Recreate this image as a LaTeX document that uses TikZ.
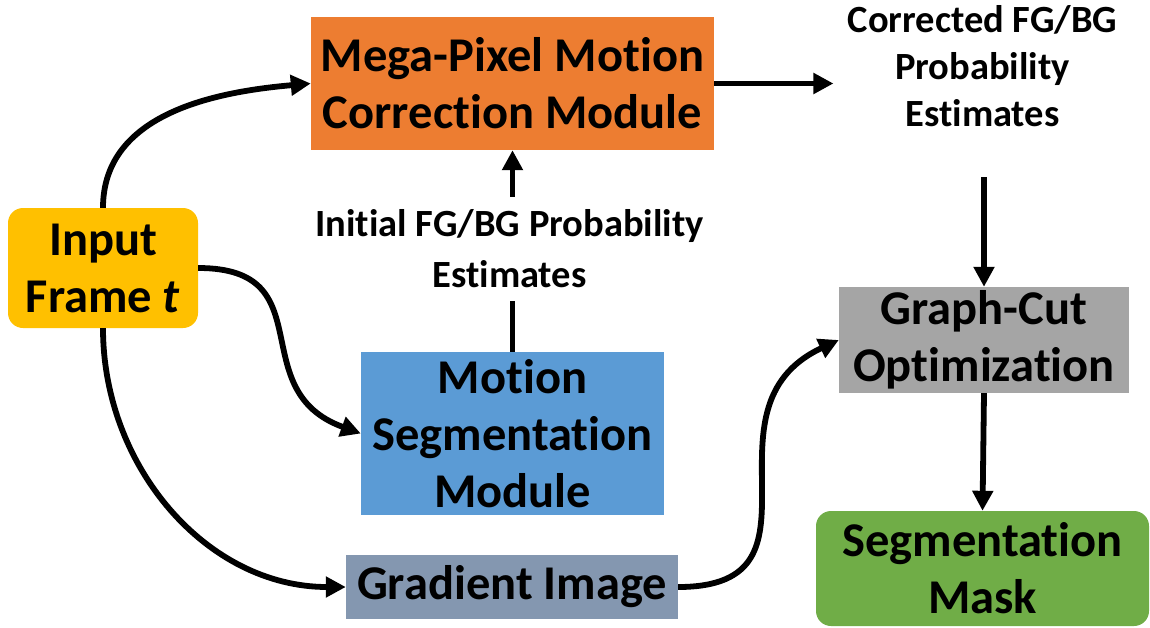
\documentclass[tikz,border=0pt]{standalone}
\usepackage{fontspec}
\setmainfont{Carlito}[Ligatures={NoCommon}]
\usetikzlibrary{arrows.meta}

\definecolor{corrorange}{HTML}{ED7D31}
\definecolor{inputyellow}{HTML}{FFC000}
\definecolor{segblue}{HTML}{5B9BD5}
\definecolor{gradslate}{HTML}{8497B0}
\definecolor{cutgray}{HTML}{A5A5A5}
\definecolor{maskgreen}{HTML}{70AD47}

\tikzset{
  block/.style={rectangle, inner sep=0pt, align=center, text=black,
    font=\bfseries\fontsize{48.5}{57}\selectfont},
  roundblock/.style={block, rounded corners=15pt},
  note/.style={inner xsep=0pt, align=center, text=black,
    font=\bfseries\fontsize{38.5}{47}\selectfont},
  conn/.style={line width=5.8pt, black},
  arrow/.style={conn, -{Triangle[length=20pt,width=20pt]}},
}

\begin{document}
\begin{tikzpicture}[x=1pt,y=1pt]
  \useasboundingbox (0,0) rectangle (1150,-627);

  % processing blocks
  \node[roundblock, fill=inputyellow, minimum width=190pt, minimum height=120pt]
    (input) at (103,-268) {Input\\Frame \textit{t}};
  \node[block, fill=corrorange, minimum width=403pt, minimum height=133pt]
    (mpmc) at (512.5,-83.5) {Mega-Pixel Motion\\Correction Module};
  \node[block, fill=segblue, minimum width=303pt, minimum height=163pt]
    (motseg) at (512.5,-433.5) {Motion\\Segmentation\\Module};
  \node[block, fill=gradslate, minimum width=332pt, minimum height=64pt]
    (grad) at (512,-587) {Gradient Image};
  \node[block, fill=cutgray, minimum width=290pt, minimum height=106pt]
    (gcut) at (984,-340) {Graph-Cut\\Optimization};
  \node[roundblock, fill=maskgreen, minimum width=333pt, minimum height=115pt]
    (mask) at (982.5,-568.5) {Segmentation\\Mask};

  % intermediate results
  \node[note, inner ysep=13pt, font=\bfseries\fontsize{38.5}{51}\selectfont]
    (initest) at (509.5,-249) {Initial FG/BG Probability\\Estimates};
  \node[note, inner xsep=14pt, inner ysep=0pt]
    (correst) at (982.5,-66.5) {Corrected FG/BG\\Probability\\Estimates};

  % data flow
  \draw[arrow] (input.north) to[out=90, in=185] (mpmc.west);
  \draw[arrow] (input.east) to[out=0, in=160, looseness=1.4] (motseg.west);
  \draw[arrow] (input.south) to[out=270, in=180] (grad.west);
  \draw[conn] (motseg.north) -- (motseg.north |- initest.south);
  \draw[arrow] (motseg.north |- initest.north) -- (motseg.north |- mpmc.south);
  \draw[arrow] (mpmc.east) -- (mpmc.east -| correst.west);
  \draw[arrow, shorten <=50pt] (gcut.north |- correst.south) -- (gcut.north);
  \draw[arrow] (grad.east) to[out=0, in=205, looseness=1.4] (gcut.west);
  \draw[arrow] (gcut.south) -- (mask.north);
\end{tikzpicture}
\end{document}
